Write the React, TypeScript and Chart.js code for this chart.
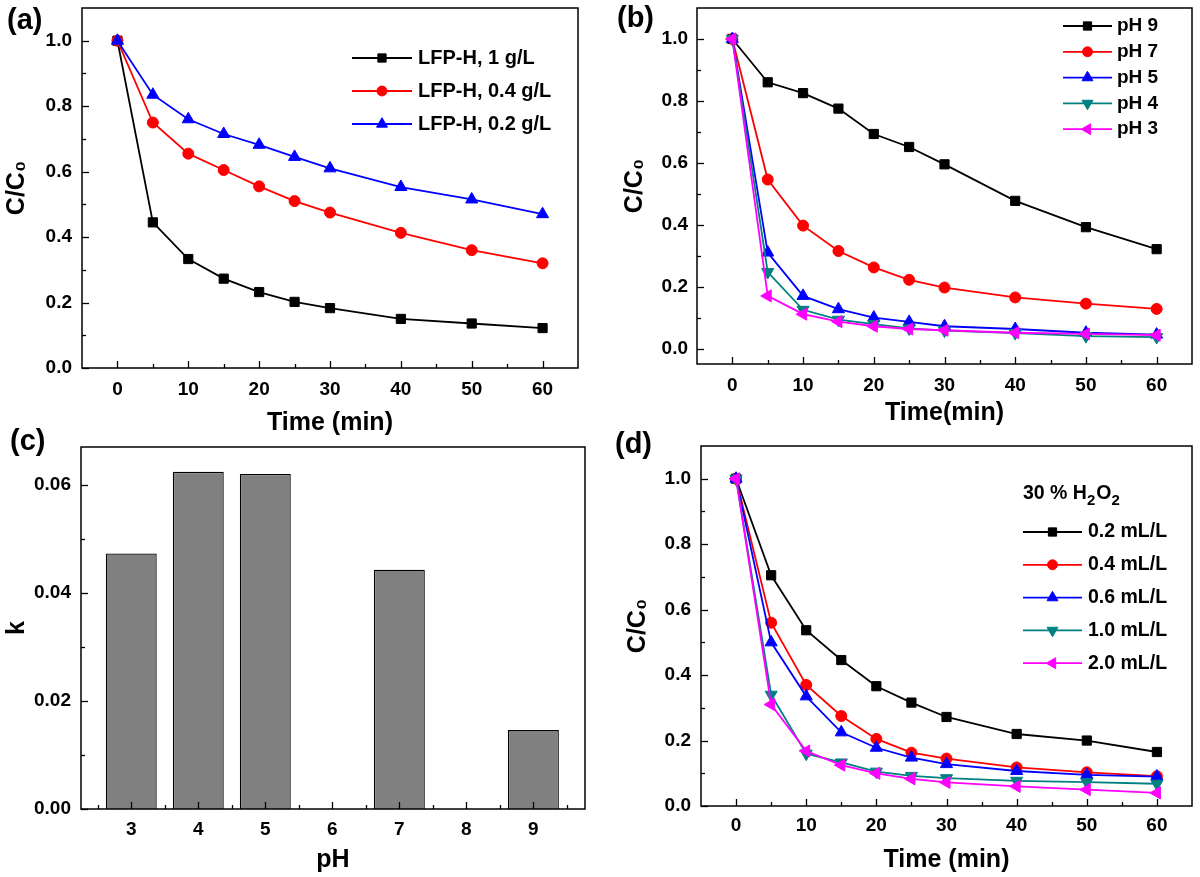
import React, { useEffect, useRef } from 'react';
import { Chart, registerables } from 'chart.js';
import { drawPoint } from 'chart.js/helpers';

Chart.register(...registerables);

// ---------- shared axes ----------
const timeMin = [0, 5, 10, 15, 20, 25, 30, 40, 50, 60];
const timeTicks = [0, 10, 20, 30, 40, 50, 60];
const timeMinorTicks = [5, 15, 25, 35, 45, 55];
const ratioTicks = [0, 0.2, 0.4, 0.6, 0.8, 1.0];
const ratioMinorTicks = [0.1, 0.3, 0.5, 0.7, 0.9];

// ---------- (a) catalyst dosage ----------
const dosageLabels = ['LFP-H, 1 g/L', 'LFP-H, 0.4 g/L', 'LFP-H, 0.2 g/L'];
const dose1 = [1.0, 0.445, 0.333, 0.273, 0.232, 0.202, 0.183, 0.15, 0.136, 0.122];
const dose04 = [1.0, 0.75, 0.655, 0.605, 0.555, 0.51, 0.475, 0.413, 0.36, 0.32];
const dose02 = [1.0, 0.835, 0.76, 0.715, 0.682, 0.645, 0.61, 0.553, 0.515, 0.47];

// ---------- (b) pH ----------
const pHLabels = ['pH 9', 'pH 7', 'pH 5', 'pH 4', 'pH 3'];
const pH9 = [1.0, 0.86, 0.825, 0.775, 0.693, 0.651, 0.595, 0.477, 0.392, 0.321];
const pH7 = [1.0, 0.546, 0.397, 0.315, 0.262, 0.222, 0.197, 0.165, 0.145, 0.128];
const pH5 = [1.0, 0.31, 0.17, 0.127, 0.1, 0.086, 0.072, 0.063, 0.051, 0.045];
const pH4 = [1.0, 0.247, 0.125, 0.093, 0.079, 0.065, 0.058, 0.05, 0.04, 0.037];
const pH3 = [1.0, 0.17, 0.111, 0.087, 0.072, 0.063, 0.059, 0.051, 0.047, 0.043];

// ---------- (c) rate constant vs pH ----------
const pHValues = [3, 4, 5, 7, 9];
const kValues = [0.0473, 0.0624, 0.062, 0.0443, 0.0146];
const pHTicks = [3, 4, 5, 6, 7, 8, 9];
const pHMinorTicks = [2.5, 3.5, 4.5, 5.5, 6.5, 7.5, 8.5, 9.5];
const kTicks = [0, 0.02, 0.04, 0.06];
const kMinorTicks = [0.01, 0.03, 0.05];

// ---------- (d) H2O2 dosage ----------
const h2o2Labels = ['0.2 mL/L', '0.4 mL/L', '0.6 mL/L', '1.0 mL/L', '2.0 mL/L'];
const h02 = [1.0, 0.705, 0.537, 0.446, 0.366, 0.316, 0.272, 0.22, 0.2, 0.165];
const h04 = [1.0, 0.56, 0.37, 0.275, 0.205, 0.163, 0.145, 0.118, 0.103, 0.091];
const h06 = [1.0, 0.5, 0.335, 0.225, 0.178, 0.148, 0.128, 0.107, 0.095, 0.09];
const h10 = [1.0, 0.34, 0.16, 0.133, 0.105, 0.092, 0.085, 0.077, 0.073, 0.068];
const h20 = [1.0, 0.31, 0.168, 0.125, 0.1, 0.083, 0.072, 0.06, 0.05, 0.04];

// ---------- styles ----------
const FAMILY = '"Liberation Sans", Arial, Helvetica, sans-serif';
const seriesStyles = [
  { color: '#000000', pointStyle: 'rect', rotation: 0, radius: 6.5 },
  { color: '#ff0000', pointStyle: 'circle', rotation: 0, radius: 5.5 },
  { color: '#0000ff', pointStyle: 'triangle', rotation: 0, radius: 7 },
  { color: '#008080', pointStyle: 'triangle', rotation: 180, radius: 7 },
  { color: '#ff00ff', pointStyle: 'triangle', rotation: -90, radius: 7 },
];

const frameTicksPlugin = {
  id: 'frameTicks',
  afterDraw(chart: any, _args: any, opts: any) {
    const { ctx, chartArea } = chart;
    const { left, right, top, bottom } = chartArea;
    const xs = chart.scales.x;
    const ys = chart.scales.y;
    ctx.save();
    ctx.strokeStyle = '#000';
    ctx.lineWidth = 1.5;
    ctx.strokeRect(left, top, right - left, bottom - top);
    ctx.lineWidth = 1.3;
    const major = 7;
    const minor = 4;
    const dx = (vals: number[], len: number) =>
      vals.forEach((v) => {
        const p = Math.round(xs.getPixelForValue(v)) + 0.5;
        ctx.beginPath();
        ctx.moveTo(p, bottom);
        ctx.lineTo(p, bottom - len);
        ctx.stroke();
      });
    const dy = (vals: number[], len: number) =>
      vals.forEach((v) => {
        const p = Math.round(ys.getPixelForValue(v)) + 0.5;
        ctx.beginPath();
        ctx.moveTo(left, p);
        ctx.lineTo(left + len, p);
        ctx.stroke();
      });
    dx(opts.xMajor || [], major);
    dx(opts.xMinor || [], minor);
    dy(opts.yMajor || [], major);
    dy(opts.yMinor || [], minor);
    ctx.restore();
  },
};

const legendPlugin = {
  id: 'sketchLegend',
  afterDraw(chart: any, _args: any, opts: any) {
    if (!opts || !opts.show) return;
    const { ctx } = chart;
    ctx.save();
    ctx.textBaseline = 'middle';
    ctx.textAlign = 'left';
    ctx.fillStyle = '#000';
    if (opts.title) {
      const big = `bold ${opts.fontSize}px ${FAMILY}`;
      const small = `bold ${Math.round(opts.fontSize * 0.75)}px ${FAMILY}`;
      let tx = opts.x;
      const ty = opts.titleY;
      for (const part of opts.title) {
        ctx.font = part.sub ? small : big;
        ctx.fillText(part.text, tx, part.sub ? ty + 7 : ty);
        tx += ctx.measureText(part.text).width + (part.sub ? 1 : 0);
      }
    }
    chart.data.datasets.forEach((ds: any, i: number) => {
      const yy = opts.y + i * opts.rowGap;
      ctx.strokeStyle = ds.borderColor;
      ctx.lineWidth = ds.borderWidth;
      ctx.beginPath();
      ctx.moveTo(opts.x, yy);
      ctx.lineTo(opts.x + opts.lineLen, yy);
      ctx.stroke();
      ctx.fillStyle = ds.borderColor;
      ctx.lineWidth = 1;
      drawPoint(
        ctx,
        { pointStyle: ds.pointStyle, rotation: ds.pointRotation, radius: ds.pointRadius * 0.9, borderWidth: 1 },
        opts.x + opts.lineLen / 2,
        yy
      );
      ctx.fillStyle = '#000';
      ctx.font = `bold ${opts.fontSize}px ${FAMILY}`;
      ctx.fillText(ds.label, opts.x + opts.lineLen + opts.textGap, yy);
    });
    ctx.restore();
  },
};

function lineDatasets(labels: string[], series: number[][]) {
  const n = series.length;
  return series.map((vals, i) => {
    const s = seriesStyles[i];
    return {
      label: labels[i],
      data: timeMin.map((t, j) => ({ x: t, y: vals[j] })),
      borderColor: s.color,
      backgroundColor: s.color,
      pointBackgroundColor: s.color,
      pointBorderColor: s.color,
      pointStyle: s.pointStyle,
      pointRotation: s.rotation,
      pointRadius: s.radius,
      pointBorderWidth: 1,
      borderWidth: 1.8,
      tension: 0,
      order: n - i,
    };
  });
}

const tickFont = { family: FAMILY, size: 19, weight: 'bold' as const };
const titleFont = { family: FAMILY, size: 25, weight: 'bold' as const };

interface AxisLayout {
  padTop: number;
  padRight: number;
  yWidth: number;
  xHeight: number;
  xTitle: string;
  yTitle: string;
  xTitlePad: number;
  yTitlePad: number;
  xLabelPad: number;
  yLabelPad: number;
}

function baseScales(
  L: AxisLayout,
  x: { min: number; max: number; ticks: number[]; fmt: (v: number) => string },
  y: { min: number; max: number; ticks: number[]; fmt: (v: number) => string }
) {
  return {
    x: {
      type: 'linear',
      min: x.min,
      max: x.max,
      offset: false,
      afterBuildTicks: (s: any) => {
        s.ticks = x.ticks.map((v) => ({ value: v }));
      },
      afterFit: (s: any) => {
        s.height = L.xHeight;
        s.paddingLeft = 0;
        s.paddingRight = 0;
      },
      grid: { display: false, drawTicks: false },
      border: { display: false },
      ticks: {
        autoSkip: false,
        maxRotation: 0,
        padding: L.xLabelPad,
        color: '#000',
        font: tickFont,
        callback: (v: any) => x.fmt(Number(v)),
      },
      title: {
        display: true,
        text: L.xTitle,
        color: '#000',
        font: titleFont,
        padding: { top: 0, bottom: L.xTitlePad },
      },
    },
    y: {
      type: 'linear',
      min: y.min,
      max: y.max,
      afterBuildTicks: (s: any) => {
        s.ticks = y.ticks.map((v) => ({ value: v }));
      },
      afterFit: (s: any) => {
        s.width = L.yWidth;
        s.paddingTop = 0;
        s.paddingBottom = 0;
      },
      grid: { display: false, drawTicks: false },
      border: { display: false },
      ticks: {
        autoSkip: false,
        padding: L.yLabelPad,
        color: '#000',
        font: tickFont,
        callback: (v: any) => y.fmt(Number(v)),
      },
      title: {
        display: true,
        text: L.yTitle,
        color: '#000',
        font: titleFont,
        padding: { top: L.yTitlePad, bottom: 0 },
      },
    },
  };
}

function lineConfig(L: AxisLayout, labels: string[], series: number[][], yMin: number, legend: any) {
  return {
    type: 'line',
    data: { datasets: lineDatasets(labels, series) },
    options: {
      animation: false,
      responsive: false,
      devicePixelRatio: 1,
      layout: { padding: { left: 0, top: L.padTop, right: L.padRight, bottom: 0 } },
      plugins: {
        legend: { display: false },
        tooltip: { enabled: false },
        frameTicks: { xMajor: timeTicks, xMinor: timeMinorTicks, yMajor: ratioTicks, yMinor: ratioMinorTicks },
        sketchLegend: legend,
      },
      scales: baseScales(
        L,
        { min: -5, max: 65, ticks: timeTicks, fmt: (v) => String(v) },
        { min: yMin, max: 1.1, ticks: ratioTicks, fmt: (v) => v.toFixed(1) }
      ),
    },
    plugins: [frameTicksPlugin, legendPlugin],
  };
}

const configA = () =>
  lineConfig(
    { padTop: 4, padRight: 22, yWidth: 82, xHeight: 70, xTitle: 'Time (min)', yTitle: 'C/C₀', xTitlePad: 0, yTitlePad: 2, xLabelPad: 10, yLabelPad: 10 },
    dosageLabels,
    [dose1, dose04, dose02],
    0,
    { show: true, x: 352, y: 58, rowGap: 33, lineLen: 60, textGap: 6, fontSize: 20 }
  );

const configB = () =>
  lineConfig(
    { padTop: 3, padRight: 4, yWidth: 97, xHeight: 74, xTitle: 'Time(min)', yTitle: 'C/C₀', xTitlePad: 10, yTitlePad: 20, xLabelPad: 10, yLabelPad: 9 },
    pHLabels,
    [pH9, pH7, pH5, pH4, pH3],
    -0.05,
    { show: true, x: 463, y: 26, rowGap: 25.8, lineLen: 49, textGap: 5, fontSize: 19 }
  );

const configD = () =>
  lineConfig(
    { padTop: 5, padRight: 5, yWidth: 101, xHeight: 71, xTitle: 'Time (min)', yTitle: 'C/C₀', xTitlePad: 2, yTitlePad: 23, xLabelPad: 8, yLabelPad: 10 },
    h2o2Labels,
    [h02, h04, h06, h10, h20],
    0,
    {
      show: true,
      x: 423,
      y: 94,
      rowGap: 32.8,
      lineLen: 59,
      textGap: 6,
      fontSize: 19.5,
      titleY: 56,
      title: [
        { text: '30 % H', sub: false },
        { text: '2', sub: true },
        { text: 'O', sub: false },
        { text: '2', sub: true },
      ],
    }
  );

const configC = () => {
  const L: AxisLayout = { padTop: 9, padRight: 15, yWidth: 81, xHeight: 68, xTitle: 'pH', yTitle: 'k', xTitlePad: 2, yTitlePad: 2, xLabelPad: 9, yLabelPad: 10 };
  return {
    type: 'bar',
    data: {
      datasets: [
        {
          label: 'k',
          data: pHValues.map((p, i) => ({ x: p, y: kValues[i] })),
          backgroundColor: '#808080',
          borderColor: '#000000',
          borderWidth: 1.3,
          barPercentage: 0.76,
          categoryPercentage: 1,
        },
      ],
    },
    options: {
      animation: false,
      responsive: false,
      devicePixelRatio: 1,
      layout: { padding: { left: 0, top: L.padTop, right: L.padRight, bottom: 0 } },
      plugins: {
        legend: { display: false },
        tooltip: { enabled: false },
        frameTicks: { xMajor: pHTicks, xMinor: pHMinorTicks, yMajor: kTicks, yMinor: kMinorTicks },
      },
      scales: baseScales(
        L,
        { min: 2.25, max: 9.77, ticks: pHTicks, fmt: (v) => String(v) },
        { min: 0, max: 0.067, ticks: kTicks, fmt: (v) => v.toFixed(2) }
      ),
    },
    plugins: [frameTicksPlugin],
  };
};

function ChartBox(props: { make: () => any; left: number; top: number; width: number; height: number }) {
  const ref = useRef<HTMLCanvasElement>(null);
  useEffect(() => {
    const chart = new Chart(ref.current as HTMLCanvasElement, props.make());
    return () => chart.destroy();
  }, []);
  return (
    <div style={{ position: 'absolute', left: props.left, top: props.top, width: props.width, height: props.height }}>
      <canvas ref={ref} width={props.width} height={props.height} style={{ width: props.width, height: props.height, display: 'block' }} />
    </div>
  );
}

const panelLabel = (text: string, left: number, top: number) => (
  <div
    style={{
      position: 'absolute',
      left,
      top,
      font: `bold 29px ${FAMILY}`,
      lineHeight: '29px',
      color: '#000',
      whiteSpace: 'nowrap',
    }}
  >
    {text}
  </div>
);

export default function App() {
  return (
    <div style={{ position: 'absolute', left: 0, top: 0, width: 1200, height: 877, background: '#fff', overflow: 'hidden' }}>
      <ChartBox make={configA} left={0} top={0} width={600} height={438} />
      <ChartBox make={configB} left={600} top={0} width={600} height={438} />
      <ChartBox make={configC} left={0} top={438} width={600} height={439} />
      <ChartBox make={configD} left={600} top={438} width={600} height={439} />
      {panelLabel('(a)', 7, 5)}
      {panelLabel('(b)', 617, 3)}
      {panelLabel('(c)', 10, 426)}
      {panelLabel('(d)', 615, 429)}
    </div>
  );
}
